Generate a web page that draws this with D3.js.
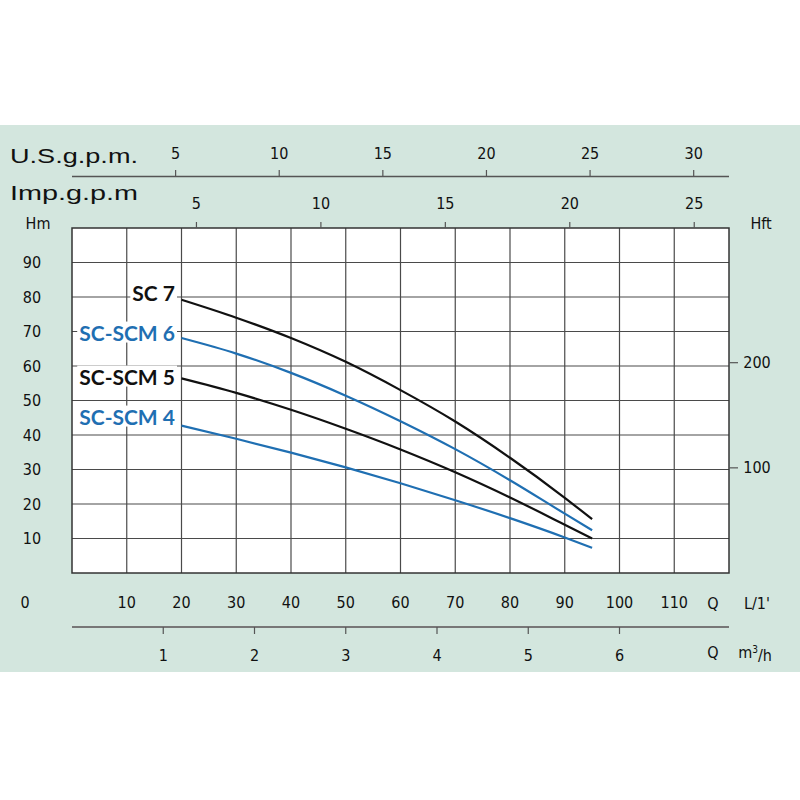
<!DOCTYPE html>
<html>
<head>
<meta charset="utf-8">
<script src="https://cdn.jsdelivr.net/npm/d3@7"></script>
<style>
  body { margin: 0; background: #fff; }
  .num { font-family: "Liberation Sans Narrow", "Arial Narrow", "DejaVu Sans Condensed", sans-serif; font-size: 16px; fill: #111; }
  .big { font-family: "Liberation Sans", Arial, sans-serif; font-size: 21px; fill: #111; }
  .lbl { font-family: Lato, "Open Sans", sans-serif; font-weight: bold; font-size: 21px; }
</style>
</head>
<body>
<div id="canvas"></div>
<script>
// flow in L/min where points were read
var flow = [20, 30, 40, 50, 60, 70, 80, 90, 95];

// head (m) per model
var sc7    = [79.2, 74.0, 68.1, 61.2, 53.0, 43.9, 33.4, 21.8, 15.6];
var scscm6 = [68.1, 63.6, 58.0, 51.4, 44.0, 35.9, 26.9, 17.2, 12.4];
var scscm5 = [56.4, 52.2, 47.3, 41.8, 35.8, 29.2, 21.9, 14.0, 10.0];
var scscm4 = [42.7, 38.9, 34.9, 30.6, 26.0, 21.1, 15.9, 10.3, 7.3];

var seriesNames = ['SC 7', 'SC-SCM 6', 'SC-SCM 5', 'SC-SCM 4'];
var seriesColors = ['#111111', '#1f6fb2', '#111111', '#1f6fb2'];

var lminTicks = [10, 20, 30, 40, 50, 60, 70, 80, 90, 100, 110];
var hmTicks = [10, 20, 30, 40, 50, 60, 70, 80, 90];
var hftTicks = [100, 200];
var m3hTicks = [1, 2, 3, 4, 5, 6];
var usTicks = [5, 10, 15, 20, 25, 30];
var impTicks = [5, 10, 15, 20, 25];

var svg = d3.select('#canvas').append('svg')
    .attr('width', 800).attr('height', 800);

svg.append('rect').attr('x', 0).attr('y', 125).attr('width', 800).attr('height', 547)
    .attr('fill', '#d3e6de');

var x = d3.scaleLinear().domain([0, 120]).range([72, 729]);
var y = d3.scaleLinear().domain([0, 100]).range([573, 228]);

// plot area
svg.append('rect').attr('x', x(0)).attr('y', y(100))
    .attr('width', x(120) - x(0)).attr('height', y(0) - y(100))
    .attr('fill', '#fff');

var grid = svg.append('g').attr('stroke', '#4a4a4a').attr('stroke-width', 1.2);
grid.selectAll('.vg').data(lminTicks).enter().append('line')
    .attr('x1', d => x(d)).attr('x2', d => x(d))
    .attr('y1', y(0)).attr('y2', y(100));
grid.selectAll('.hg').data(hmTicks).enter().append('line')
    .attr('x1', x(0)).attr('x2', x(120))
    .attr('y1', d => y(d)).attr('y2', d => y(d));

// curves
var line = d3.line().x(d => x(d[0])).y(d => y(d[1])).curve(d3.curveMonotoneX);
var allSeries = [sc7, scscm6, scscm5, scscm4];
allSeries.forEach(function(s, i) {
    svg.append('path')
        .attr('d', line(flow.map((f, j) => [f, s[j]])))
        .attr('fill', 'none')
        .attr('stroke', seriesColors[i])
        .attr('stroke-width', 2.2);
});

// series labels with white backing
var lblY = [293, 333, 377, 417];
seriesNames.forEach(function(n, i) {
    var g = svg.append('g');
    var t = g.append('text').attr('class', 'lbl')
        .attr('x', 175).attr('y', lblY[i]).attr('dy', '0.36em')
        .attr('text-anchor', 'end')
        .attr('fill', seriesColors[i])
        .text(n);
    var bb = t.node().getBBox();
    g.insert('rect', 'text')
        .attr('x', bb.x - 2).attr('y', bb.y + 2)
        .attr('width', bb.width + 4).attr('height', bb.height - 4)
        .attr('fill', '#fff');
});

// frame
svg.append('rect').attr('x', x(0)).attr('y', y(100))
    .attr('width', x(120) - x(0)).attr('height', y(0) - y(100))
    .attr('fill', 'none').attr('stroke', '#333').attr('stroke-width', 1.5);

// left Hm labels
svg.selectAll('.hm').data(hmTicks).enter().append('text').attr('class', 'num')
    .attr('x', 32).attr('y', d => y(d)).attr('dy', '0.35em')
    .attr('text-anchor', 'middle').text(d => d);
svg.append('text').attr('class', 'num').attr('x', 38).attr('y', 223).attr('dy', '0.35em')
    .attr('text-anchor', 'middle').text('Hm');

// right Hft ticks
svg.selectAll('.hft').data(hftTicks).enter().append('line')
    .attr('x1', x(120)).attr('x2', x(120) + 9)
    .attr('y1', d => y(d * 0.3048)).attr('y2', d => y(d * 0.3048))
    .attr('stroke', '#555').attr('stroke-width', 1.2);
svg.selectAll('.hftl').data(hftTicks).enter().append('text').attr('class', 'num')
    .attr('x', 757).attr('y', d => y(d * 0.3048)).attr('dy', '0.35em')
    .attr('text-anchor', 'middle').text(d => d);
svg.append('text').attr('class', 'num').attr('x', 761).attr('y', 223).attr('dy', '0.35em')
    .attr('text-anchor', 'middle').text('Hft');

// bottom L/min labels
svg.selectAll('.lm').data(lminTicks).enter().append('text').attr('class', 'num')
    .attr('x', d => x(d)).attr('y', 602).attr('dy', '0.35em')
    .attr('text-anchor', 'middle').text(d => d);
svg.append('text').attr('class', 'num').attr('x', 25).attr('y', 602).attr('dy', '0.35em')
    .attr('text-anchor', 'middle').text('0');
svg.append('text').attr('class', 'num').attr('x', 713).attr('y', 603).attr('dy', '0.35em')
    .attr('text-anchor', 'middle').text('Q');
svg.append('text').attr('class', 'num').attr('x', 757).attr('y', 603).attr('dy', '0.35em')
    .attr('text-anchor', 'middle').text("L/1'");

// m3/h axis
svg.append('line').attr('x1', x(0)).attr('x2', x(120)).attr('y1', 627).attr('y2', 627)
    .attr('stroke', '#777').attr('stroke-width', 2);
svg.selectAll('.m3').data(m3hTicks).enter().append('line')
    .attr('x1', d => x(d * 1000 / 60)).attr('x2', d => x(d * 1000 / 60))
    .attr('y1', 627).attr('y2', 634)
    .attr('stroke', '#555').attr('stroke-width', 1.2);
svg.selectAll('.m3l').data(m3hTicks).enter().append('text').attr('class', 'num')
    .attr('x', d => x(d * 1000 / 60)).attr('y', 655).attr('dy', '0.35em')
    .attr('text-anchor', 'middle').text(d => d);
svg.append('text').attr('class', 'num').attr('x', 713).attr('y', 652).attr('dy', '0.35em')
    .attr('text-anchor', 'middle').text('Q');
var m3 = svg.append('text').attr('class', 'num').attr('x', 755).attr('y', 652).attr('dy', '0.35em')
    .attr('text-anchor', 'middle');
m3.append('tspan').text('m');
m3.append('tspan').attr('dy', '-0.5em').attr('font-size', '10px').text('3');
m3.append('tspan').attr('dy', '0.5em').text('/h');

// US gpm axis
svg.append('line').attr('x1', x(0)).attr('x2', x(120)).attr('y1', 176.5).attr('y2', 176.5)
    .attr('stroke', '#555').attr('stroke-width', 1.5);
svg.selectAll('.us').data(usTicks).enter().append('line')
    .attr('x1', d => x(d * 3.785)).attr('x2', d => x(d * 3.785))
    .attr('y1', 176).attr('y2', 170)
    .attr('stroke', '#555').attr('stroke-width', 1.2);
svg.selectAll('.usl').data(usTicks).enter().append('text').attr('class', 'num')
    .attr('x', d => x(d * 3.785)).attr('y', 153).attr('dy', '0.35em')
    .attr('text-anchor', 'middle').text(d => d);
svg.append('text').attr('class', 'big').attr('x', 10).attr('y', 163)
    .attr('textLength', 128).attr('lengthAdjust', 'spacingAndGlyphs')
    .text('U.S.g.p.m.');

// Imp gpm ticks on frame top
svg.selectAll('.imp').data(impTicks).enter().append('line')
    .attr('x1', d => x(d * 4.546)).attr('x2', d => x(d * 4.546))
    .attr('y1', y(100)).attr('y2', y(100) - 6)
    .attr('stroke', '#555').attr('stroke-width', 1.2);
svg.selectAll('.impl').data(impTicks).enter().append('text').attr('class', 'num')
    .attr('x', d => x(d * 4.546)).attr('y', 203).attr('dy', '0.35em')
    .attr('text-anchor', 'middle').text(d => d);
svg.append('text').attr('class', 'big').attr('x', 10).attr('y', 200)
    .attr('textLength', 128).attr('lengthAdjust', 'spacingAndGlyphs')
    .text('Imp.g.p.m');
</script>
</body>
</html>
